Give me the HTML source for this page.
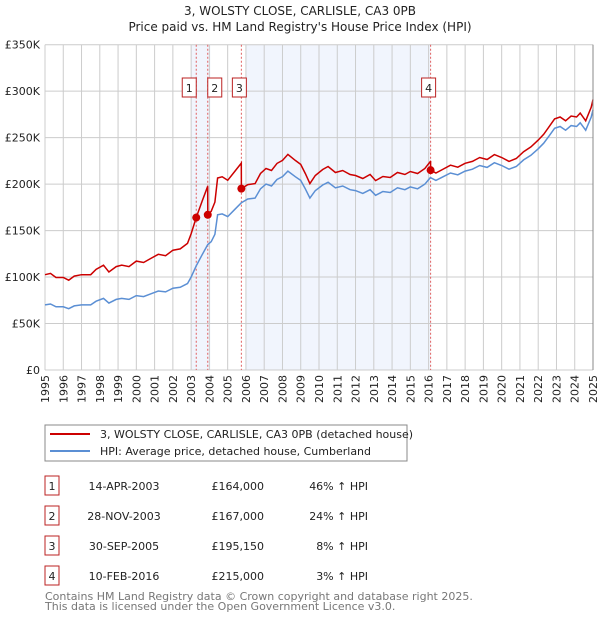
<!DOCTYPE html>
<html><head><meta charset="utf-8"><style>
body{margin:0;background:#fff;font-family:"Liberation Sans","DejaVu Sans",sans-serif;}
svg text{font-family:"DejaVu Sans","Liberation Sans",sans-serif;}
</style></head><body>
<svg id="chart" width="600" height="620" viewBox="0 0 600 620" xmlns="http://www.w3.org/2000/svg">
<text x="300" y="15" font-size="12" text-anchor="middle" fill="#222">3, WOLSTY CLOSE, CARLISLE, CA3 0PB</text>
<text x="300" y="31" font-size="12" text-anchor="middle" fill="#222">Price paid vs. HM Land Registry's House Price Index (HPI)</text>
<g id="plot"></g>
<g>
<rect x="45" y="425" width="362" height="36" fill="#fff" stroke="#888"/>
<line x1="50" y1="434" x2="90" y2="434" stroke="#cc0000" stroke-width="2"/>
<text x="100" y="438" font-size="11" fill="#222">3, WOLSTY CLOSE, CARLISLE, CA3 0PB (detached house)</text>
<line x1="50" y1="451" x2="90" y2="451" stroke="#5b8fd4" stroke-width="2"/>
<text x="100" y="455" font-size="11" fill="#222">HPI: Average price, detached house, Cumberland</text>
</g>
<g id="table" font-size="11" fill="#222"></g>
<text x="45" y="600" font-size="11" fill="#777">Contains HM Land Registry data © Crown copyright and database right 2025.</text>
<text x="45" y="610" font-size="11" fill="#777">This data is licensed under the Open Government Licence v3.0.</text>
</svg>
<script>
const hpiYears=[1995,1995.3,1995.6,1996,1996.3,1996.6,1997,1997.5,1997.8,1998.2,1998.5,1998.9,1999.2,1999.6,2000,2000.4,2000.8,2001.2,2001.6,2002,2002.4,2002.8,2003.0,2003.28,2003.6,2003.91,2004.1,2004.3,2004.45,2004.7,2005.0,2005.4,2005.75,2006.1,2006.5,2006.8,2007.1,2007.4,2007.7,2008.0,2008.3,2008.7,2009.0,2009.25,2009.5,2009.8,2010.2,2010.5,2010.9,2011.3,2011.7,2012.0,2012.4,2012.8,2013.1,2013.5,2013.9,2014.3,2014.7,2015.0,2015.4,2015.8,2016.1,2016.4,2016.8,2017.2,2017.6,2018.0,2018.4,2018.8,2019.2,2019.6,2020.0,2020.4,2020.8,2021.2,2021.6,2022.0,2022.3,2022.6,2022.9,2023.2,2023.5,2023.8,2024.1,2024.3,2024.6,2024.9,2025];
const hpiValues=[70,71,68,68,66,69,70,70,74,77,72,76,77,76,80,79,82,85,84,88,89,93,100,112,124,135,138,146,167,168,165,173,180,184,185,195,200,198,205,208,214,208,204,195,185,193,199,202,196,198,194,193,190,194,188,192,191,196,194,197,195,200,207,204,208,212,210,214,216,220,218,223,220,216,219,226,231,238,244,252,260,262,258,263,262,266,258,272,280];
const saleYears=[2003.28,2003.91,2005.75,2016.11];
const salePrices=[164,167,195.15,215];
const saleLabels=["1","2","3","4"];
const saleDates=["14-APR-2003","28-NOV-2003","30-SEP-2005","10-FEB-2016"];
const salePriceText=["£164,000","£167,000","£195,150","£215,000"];
const saleHpiText=["46% ↑ HPI","24% ↑ HPI","8% ↑ HPI","3% ↑ HPI"];
const yTicks=[0,50,100,150,200,250,300,350];
const yTickLabels=["£0","£50K","£100K","£150K","£200K","£250K","£300K","£350K"];
const NS="http://www.w3.org/2000/svg";
const X0=45,X1=593,Y0=370,Y1=44.7;
function xs(y){return X0+(y-1995)/30*(X1-X0);}
function ys(v){return Y0-v/350*(Y0-Y1);}
function hpiAt(t){for(let i=1;i<hpiYears.length;i++){if(t<=hpiYears[i]){const a=hpiYears[i-1],b=hpiYears[i];return hpiValues[i-1]+(hpiValues[i]-hpiValues[i-1])*(t-a)/(b-a);}}return hpiValues[hpiValues.length-1];}
function mk(tag,at,parent){const e=document.createElementNS(NS,tag);for(const k in at)e.setAttribute(k,at[k]);parent.appendChild(e);return e;}
const plot=document.getElementById('plot');
let sh1=mk('rect',{x:xs(2003.0),y:Y1,width:xs(2004.05)-xs(2003.0),height:Y0-Y1,fill:'#eef3fd',opacity:0.8},plot);


let sh2=mk('rect',{x:xs(2006.0),y:Y1,width:xs(2016.11)-xs(2006.0),height:Y0-Y1,fill:'#eef3fd',opacity:0.8},plot);


for(let yr=1995;yr<=2025;yr++){const l=mk('line',{x1:xs(yr),x2:xs(yr),y1:Y1,y2:Y0,stroke:'#ccc','stroke-width':1},plot);


const t=mk('text',{x:0,y:0,'font-size':11,fill:'#222','text-anchor':'end',transform:`translate(${xs(yr)+4},${375}) rotate(-90)`},plot);t.textContent=yr;

}
yTicks.forEach((v,i)=>{const l=mk('line',{x1:X0,x2:X1,y1:ys(v),y2:ys(v),stroke:'#ccc','stroke-width':1},plot);


const t=mk('text',{x:40,y:ys(v)+4,'font-size':11,fill:'#222','text-anchor':'end'},plot);t.textContent=yTickLabels[i];

});
saleYears.forEach((s,i)=>{const l=mk('line',{x1:xs(s),x2:xs(s),y1:Y1,y2:Y0,stroke:'#e06060','stroke-width':1,'stroke-dasharray':'2,2'},plot);

});
const hp=hpiYears.map((t,i)=>xs(t).toFixed(1)+','+ys(hpiValues[i]).toFixed(1)).join(' ');
const hl=mk('polyline',{points:hp,fill:'none',stroke:'#5b8fd4','stroke-width':1.5},plot);


function priceAt(t){let k=0;for(let i=0;i<saleYears.length;i++)if(t>=saleYears[i])k=i;return salePrices[k]*hpiAt(t)/hpiAt(saleYears[k]);}
const ts=[...new Set([...hpiYears,...saleYears,...saleYears.map(s=>s-0.001)])].sort((a,b)=>a-b);
const pp=ts.map(t=>xs(t).toFixed(1)+','+ys(priceAt(t)).toFixed(1)).join(' ');
const pl=mk('polyline',{points:pp,fill:'none',stroke:'#cc0000','stroke-width':1.5},plot);


saleYears.forEach((s,i)=>{const c=mk('circle',{cx:xs(s),cy:ys(salePrices[i]),r:4,fill:'#cc0000'},plot);


const bx=[-9,5,-4,-4][i];
const r=mk('rect',{x:xs(s)+bx-5,y:78,width:14,height:19,fill:'#fff',stroke:'#b22'},plot);


const t=mk('text',{x:xs(s)+bx+2,y:92,'font-size':11,'text-anchor':'middle',fill:'#222'},plot);t.textContent=saleLabels[i];

});
const ax=mk('line',{x1:X1,x2:X1,y1:Y1,y2:Y0,stroke:'#888'},plot);


const tb=document.getElementById('table');
saleLabels.forEach((lab,i)=>{const y=476+i*30;
const r=mk('rect',{x:45,y:y,width:14,height:19,fill:'#fff',stroke:'#b22'},tb);


const vals=[[lab,52,'middle'],[saleDates[i],124,'middle'],[salePriceText[i],264,'end'],[saleHpiText[i],368,'end']];
vals.forEach(v=>{const t=mk('text',{x:v[1],y:y+14,'text-anchor':v[2],'font-size':11,fill:'#222'},tb);t.textContent=v[0];

});});
</script>
</body></html>
